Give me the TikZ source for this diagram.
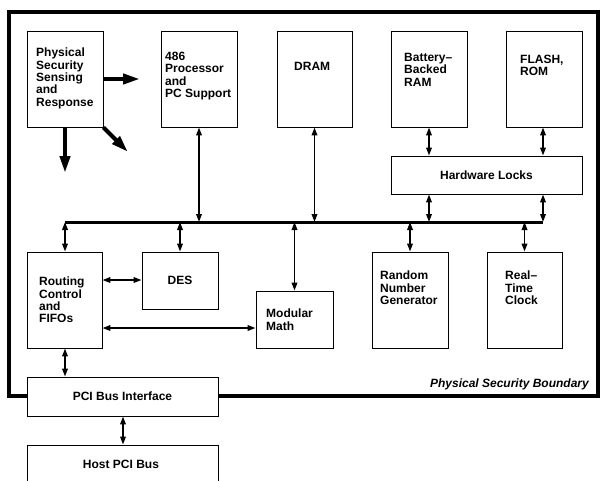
\documentclass[tikz,border=0pt]{standalone}
\usepackage{fontspec}
\setmainfont{Liberation Sans}
\usetikzlibrary{arrows.meta}
\begin{document}
\begin{tikzpicture}[x=1pt,y=-1pt,
  blk/.style={draw=black, line width=0.8pt, fill=white, rectangle, inner sep=0pt},
  txt/.style={anchor=north west, align=left, inner sep=0pt, font={\fontsize{12}{12.3}\selectfont\bfseries}},
  ctxt/.style={font={\fontsize{12}{12.3}\selectfont\bfseries}},
  biarrow/.style={line width=1.8pt, {Triangle[length=8pt,width=5.5pt]}-{Triangle[length=8pt,width=5.5pt]}},
  thickarrow/.style={line width=4pt, -{Triangle[length=17pt,width=10pt]}},
  bus/.style={line width=3pt},
  boundary/.style={line width=4pt}]
\useasboundingbox (0,0) rectangle (600,480);
\clip (0,0) rectangle (600,480);
% security boundary
\draw[boundary] (9,12) rectangle (597.5,396);
\node[anchor=base east, inner sep=0pt, font={\fontsize{12}{12.3}\selectfont\bfseries\itshape}] (bndT) at (589,387) {Physical Security Boundary};
% top row boxes
\node[blk, minimum width=76pt, minimum height=96pt] (phys) at (65,79) {};
\node[blk, minimum width=76pt, minimum height=96pt] (cpu) at (199,79) {};
\node[blk, minimum width=75pt, minimum height=96pt] (dram) at (314.5,79) {};
\node[blk, minimum width=76pt, minimum height=96pt] (bbram) at (429,79) {};
\node[blk, minimum width=76pt, minimum height=96pt] (flash) at (544,79) {};
\node[blk, minimum width=191pt, minimum height=38pt, ctxt] (hwl) at (486.5,175) {Hardware Locks};
% texts
\node[txt] (physT) at (36,48) {Physical\\Security\\Sensing\\and\\Response};
\node[txt] (cpuT) at (165,52) {486\\Processor\\and\\PC Support};
\node[txt] (dramT) at (294,62) {DRAM};
\node[txt] (bbT) at (404,53) {Battery–\\Backed\\RAM};
\node[txt] (flashT) at (520,55) {FLASH,\\ROM};
% lower boxes
\node[blk, minimum width=75pt, minimum height=96pt] (route) at (64.5,300) {};
\node[blk, minimum width=76pt, minimum height=57pt, ctxt] (des) at (180,280.5) {DES};
\node[blk, minimum width=77pt, minimum height=57pt] (mod) at (294.5,319.5) {};
\node[blk, minimum width=76pt, minimum height=96pt] (rng) at (410,300) {};
\node[blk, minimum width=75pt, minimum height=96pt] (rtc) at (524.5,300) {};
\node[txt] (routeT) at (39,277) {Routing\\Control\\and\\FIFOs};
\node[txt] (modT) at (266,309) {Modular\\Math};
\node[txt] (rngT) at (380,271) {Random\\Number\\Generator};
\node[txt] (rtcT) at (505,271) {Real–\\Time\\Clock};
% PCI
\node[blk, minimum width=191pt, minimum height=39pt, ctxt] (pci) at (122.5,396.5) {PCI Bus Interface};
\node[blk, minimum width=191pt, minimum height=40pt, ctxt] (host) at (122.5,465) {};
\node[ctxt, inner sep=0pt] (hostT) at (121,464) {Host PCI Bus};
% bus
\coordinate (busL) at (65,222);
\coordinate (busR) at (543,222);
\draw[bus] (busL) -- (busR);
% bus connections
\draw[biarrow] (cpu.south) -- (cpu.south |- busL);
\draw[biarrow] (dram.south) -- (dram.south |- busL);
\draw[biarrow] (hwl.south -| bbram) -- (bbram.south |- busL);
\draw[biarrow] (hwl.south -| busR) -- (busR);
\draw[biarrow] (bbram.south) -- (hwl.north -| bbram);
\draw[biarrow] (flash.south -| busR) -- (hwl.north -| busR);
\draw[biarrow] (busL) -- (route.north -| busL);
\draw[biarrow] (des.north |- busL) -- (des.north);
\draw[biarrow] (mod.north |- busL) -- (mod.north);
\draw[biarrow] (rng.north |- busL) -- (rng.north);
\draw[biarrow] (rtc.north |- busL) -- (rtc.north);
% routing links
\coordinate (rdY) at (0,280);
\coordinate (rmY) at (0,328);
\draw[biarrow] (route.east |- rdY) -- (des.west |- rdY);
\draw[biarrow] (route.east |- rmY) -- (mod.west |- rmY);
\draw[biarrow] (route.south -| busL) -- (pci.north -| busL);
\draw[biarrow] (pci.south -| 123,0) -- (host.north -| 123,0);
% thick arrows
\coordinate (physR) at (140,79);
\coordinate (physD) at (65,173);
\coordinate (physDR) at (128,152);
\draw[thickarrow] (phys.east) -- (physR);
\draw[thickarrow] (phys.south) -- (physD);
\draw[thickarrow] (phys.south east) -- (physDR);
\end{tikzpicture}
\end{document}
